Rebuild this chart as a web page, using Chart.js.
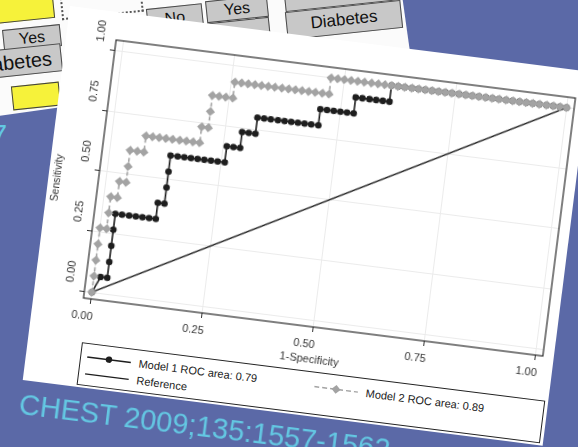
<!DOCTYPE html>
<html>
<head>
<meta charset="utf-8">
<script src="https://cdn.jsdelivr.net/npm/chart.js@4.4.1/dist/chart.umd.min.js"></script>
<style>
  html, body { margin: 0; padding: 0; }
  body { width: 578px; height: 447px; overflow: hidden; background: #5b69a7; position: relative; font-family: "Liberation Sans", Arial, sans-serif; }
  .slide { position: absolute; left: -40px; top: -10px; width: 437px; height: 130px; background: #fbfbfb; transform-origin: 0 0; transform: rotate(-8deg); }
  .box { position: absolute; background: #c8c8c8; border: 1px solid #4a4a4a; box-sizing: border-box; color: #111; font-size: 16px; text-align: center; transform: rotate(-6deg); }
  .yellow { position: absolute; background: #f6f23a; border: 1px solid #444; box-sizing: border-box; transform: rotate(-6deg); }
  .dotted { position: absolute; border: 2px dotted #555; transform: rotate(-6deg); }
  #card { position: absolute; left: 70px; top: 6px; width: 524px; height: 377px; background: #fff; transform-origin: 0 0; transform: rotate(7.2deg); overflow: hidden; }
  #roc { position: absolute; left: 0; top: 0; }
  #legend { position: absolute; left: 54px; top: 332px; width: 467px; height: 43px; border: 1px solid #222; box-sizing: border-box; font-size: 11px; color: #222; }
  .item { position: absolute; height: 14px; line-height: 14px; white-space: nowrap; }
  .item svg { position: absolute; left: 0; top: 0; }
  .item span { position: absolute; left: 52px; top: 0; }
  .cite { position: absolute; color: #63c7e2; font-size: 29px; line-height: 29px; white-space: nowrap; transform-origin: 0 0; transform: rotate(7deg); }
</style>
</head>
<body>
<div class="slide"></div>
<div class="yellow" style="left:-6px;top:-4px;width:60px;height:25px;"></div>
<div class="dotted" style="left:60px;top:-22px;width:78px;height:34px;"></div>
<div class="box" style="left:147px;top:6px;width:56px;height:24px;line-height:22px;">No</div>
<div class="box" style="left:208px;top:20px;width:62px;height:22px;"></div>
<div class="box" style="left:206px;top:-2px;width:62px;height:22px;line-height:20px;">Yes</div>
<div class="box" style="left:284px;top:-22px;width:118px;height:28px;"></div>
<div class="box" style="left:286px;top:6px;width:116px;height:28px;line-height:26px;font-size:17px;">Diabetes</div>
<div class="box" style="left:3px;top:27px;width:58px;height:22px;line-height:20px;">Yes</div>
<div class="box" style="left:-70px;top:50px;width:132px;height:28px;line-height:26px;font-size:20px;text-align:right;padding-right:9px;">Diabetes</div>
<div class="yellow" style="left:12px;top:84px;width:48px;height:24px;"></div>
<div class="cite" style="left:-9px;top:121px;transform:none;">7</div>

<div id="card">
  <canvas id="roc" width="524" height="330"></canvas>
  <div id="legend">
    <div class="item" style="left:6px;top:6px;">
      <svg width="46" height="14"><line x1="0" y1="7" x2="44" y2="7" stroke="#1e1e1e" stroke-width="1.5"/><circle cx="22" cy="7" r="3.2" fill="#1e1e1e"/></svg>
      <span>Model 1 ROC area: 0.79</span>
    </div>
    <div class="item" style="left:6px;top:23px;">
      <svg width="46" height="14"><line x1="0" y1="7" x2="44" y2="7" stroke="#1e1e1e" stroke-width="1.3"/></svg>
      <span>Reference</span>
    </div>
    <div class="item" style="left:235px;top:7px;">
      <svg width="46" height="14"><line x1="0" y1="7" x2="44" y2="7" stroke="#a3a3a3" stroke-width="1.5" stroke-dasharray="5 3"/><polygon points="22,2.5 26.5,7 22,11.5 17.5,7" fill="#a3a3a3"/></svg>
      <span>Model 2 ROC area: 0.89</span>
    </div>
  </div>
</div>
<div class="cite" style="left:21px;top:390px;">CHEST 2009;135:1557-1562</div>

<script>
// 1-specificity / sensitivity
const model1Spec = [0, 0.015, 0.030, 0.030, 0.030, 0.030, 0.030, 0.045, 0.061, 0.076, 0.091, 0.106, 0.121, 0.121, 0.136, 0.136, 0.136, 0.136,
  0.152, 0.167, 0.182, 0.197, 0.212, 0.227, 0.242, 0.258,
  0.258, 0.273, 0.288,
  0.288, 0.303, 0.318,
  0.318, 0.333, 0.348, 0.364, 0.379, 0.394, 0.409, 0.424, 0.439, 0.455,
  0.455, 0.470, 0.485, 0.500, 0.515, 0.530,
  0.530, 0.545, 0.561, 0.576, 0.591, 0.606,
  0.606, 0.621, 0.636, 0.652, 0.667, 0.682, 0.697, 0.712, 0.727, 0.742, 0.758, 0.773, 0.788, 0.803, 0.818, 0.833, 0.848, 0.864, 0.879, 0.894, 0.909, 0.924, 0.939, 0.955, 0.970, 0.985, 1];
const model1Sens = [0, 0.067, 0.067, 0.133, 0.200, 0.267, 0.333, 0.333, 0.333, 0.333, 0.333, 0.333, 0.333, 0.400, 0.400, 0.467, 0.533, 0.600,
  0.600, 0.600, 0.600, 0.600, 0.600, 0.600, 0.600, 0.600,
  0.667, 0.667, 0.667,
  0.733, 0.733, 0.733,
  0.800, 0.800, 0.800, 0.800, 0.800, 0.800, 0.800, 0.800, 0.800, 0.800,
  0.867, 0.867, 0.867, 0.867, 0.867, 0.867,
  0.933, 0.933, 0.933, 0.933, 0.933, 0.933,
  1, 1, 1, 1, 1, 1, 1, 1, 1, 1, 1, 1, 1, 1, 1, 1, 1, 1, 1, 1, 1, 1, 1, 1, 1, 1, 1];

const model2Spec = [0, 0, 0, 0, 0, 0.015, 0.015, 0.015, 0.030, 0.030, 0.045, 0.045, 0.045, 0.061, 0.076, 0.076,
  0.091, 0.106, 0.121, 0.136, 0.152, 0.167, 0.182, 0.197,
  0.197, 0.212,
  0.212, 0.212, 0.227, 0.242, 0.258,
  0.258, 0.273, 0.288, 0.303, 0.318, 0.333, 0.348, 0.364, 0.379, 0.394, 0.409, 0.424, 0.439, 0.455, 0.470,
  0.470, 0.485, 0.500, 0.515, 0.530, 0.545, 0.561, 0.576, 0.591, 0.606, 0.621, 0.636, 0.652, 0.667, 0.682, 0.697, 0.712, 0.727,
  0.742, 0.758, 0.773, 0.788, 0.803, 0.818, 0.833, 0.848, 0.864, 0.879, 0.894, 0.909, 0.924, 0.939, 0.955, 0.970, 0.985, 1];
const model2Sens = [0, 0.067, 0.133, 0.200, 0.267, 0.267, 0.333, 0.400, 0.400, 0.467, 0.467, 0.533, 0.600, 0.600, 0.600, 0.667,
  0.667, 0.667, 0.667, 0.667, 0.667, 0.667, 0.667, 0.667,
  0.733, 0.733,
  0.800, 0.867, 0.867, 0.867, 0.867,
  0.933, 0.933, 0.933, 0.933, 0.933, 0.933, 0.933, 0.933, 0.933, 0.933, 0.933, 0.933, 0.933, 0.933, 0.933,
  1, 1, 1, 1, 1, 1, 1, 1, 1, 1, 1, 1, 1, 1, 1, 1, 1, 1,
  1, 1, 1, 1, 1, 1, 1, 1, 1, 1, 1, 1, 1, 1, 1, 1, 1, 1];

const refSpec = [0, 1];
const refSens = [0, 1];

const tickValues = [0, 0.25, 0.5, 0.75, 1];
const tickLabels = ['0.00', '0.25', '0.50', '0.75', '1.00'];

const FONT = '"Liberation Sans", Arial, sans-serif';
const toPoints = (xs, ys) => xs.map((v, i) => ({ x: v, y: ys[i] }));

// box round the plot region
const frame = {
    id: 'frame',
    beforeDatasetsDraw(chart) {
        const a = chart.chartArea, ctx = chart.ctx;
        ctx.save();
        ctx.strokeStyle = '#2a2a2a';
        ctx.lineWidth = 1.2;
        ctx.strokeRect(a.left, a.top, a.right - a.left, a.bottom - a.top);
        ctx.restore();
    }
};

// vertical y tick labels and y title
const yLabels = {
    id: 'yLabels',
    afterDraw(chart) {
        const ctx = chart.ctx, ys = chart.scales.y, a = chart.chartArea;
        ctx.save();
        ctx.fillStyle = '#333';
        ctx.textAlign = 'center';
        ctx.textBaseline = 'middle';
        ctx.font = '11px ' + FONT;
        tickValues.forEach((v, i) => {
            ctx.save();
            ctx.translate(a.left - 15, ys.getPixelForValue(v) - 18);
            ctx.rotate(-Math.PI / 2);
            ctx.fillText(tickLabels[i], 0, 0);
            ctx.restore();
        });
        ctx.font = '10.5px ' + FONT;
        ctx.translate(9, (a.top + a.bottom) / 2 + 14);
        ctx.rotate(-Math.PI / 2);
        ctx.fillText('Sensitivity', 0, 0);
        ctx.restore();
    }
};

new Chart(document.getElementById('roc').getContext('2d'), {
    type: 'scatter',
    data: {
        datasets: [{
            label: 'Model 1 ROC area: 0.79',
            data: toPoints(model1Spec, model1Sens),
            showLine: true,
            borderColor: '#1e1e1e',
            borderWidth: 1.6,
            pointStyle: 'circle',
            pointRadius: 3.3,
            pointBackgroundColor: '#1e1e1e',
            pointBorderWidth: 0,
            order: 1
        }, {
            label: 'Reference',
            data: toPoints(refSpec, refSens),
            showLine: true,
            borderColor: '#222',
            borderWidth: 1.5,
            pointRadius: 0,
            order: 2
        }, {
            label: 'Model 2 ROC area: 0.89',
            data: toPoints(model2Spec, model2Sens),
            showLine: true,
            borderColor: '#a3a3a3',
            borderDash: [4, 3],
            borderWidth: 1.6,
            pointStyle: 'rectRot',
            pointRadius: 4.6,
            pointBackgroundColor: '#a3a3a3',
            pointBorderWidth: 0,
            order: 0
        }]
    },
    options: {
        responsive: false,
        animation: false,
        devicePixelRatio: 1,
        layout: { padding: { top: 28, right: 11, left: 0, bottom: 0 } },
        plugins: {
            legend: { display: false },
            tooltip: { enabled: false }
        },
        scales: {
            x: {
                type: 'linear',
                min: -0.017,
                max: 1.017,
                afterBuildTicks: s => { s.ticks = tickValues.map(v => ({ value: v })); },
                afterFit: s => { s.height = 42; },
                grid: { color: '#ebebeb', tickColor: '#333', tickLength: 5 },
                border: { display: false },
                ticks: {
                    callback: (v, i) => tickLabels[i],
                    font: { size: 11, family: FONT },
                    color: '#333',
                    padding: 6,
                    labelOffset: -7,
                    maxRotation: 0,
                    autoSkip: false
                },
                title: { display: true, text: '1-Specificity', font: { size: 11, family: FONT }, color: '#333', padding: { top: 2, bottom: 2 } }
            },
            y: {
                type: 'linear',
                min: -0.028,
                max: 1.044,
                afterBuildTicks: s => { s.ticks = tickValues.map(v => ({ value: v })); },
                afterFit: s => { s.width = 50; },
                grid: { color: '#ebebeb', tickColor: '#333', tickLength: 5 },
                border: { display: false },
                ticks: { display: false },
                title: { display: false }
            }
        }
    },
    plugins: [frame, yLabels]
});
</script>
</body>
</html>
